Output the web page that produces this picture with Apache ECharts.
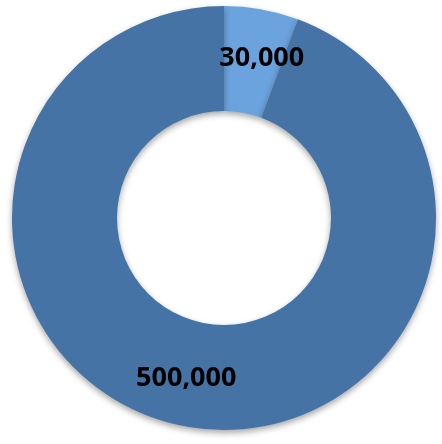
<!DOCTYPE html>
<html>
<head>
<meta charset="utf-8">
<script src="https://cdn.jsdelivr.net/npm/echarts@6/dist/echarts.min.js"></script>
<style>
  html, body { margin: 0; padding: 0; background: #fff; }
  #donut-chart { width: 442px; height: 444px; }
</style>
</head>
<body>
<div id="donut-chart"></div>
<script>
const categories = ['A', 'B']
const values = [30000, 500000]
const labels = ['30,000', '500,000']
const colors = ['#6ba3de', '#4673a5']
const labelShift = [[9, 0], [-9, 0]]

let chart = echarts.init(document.getElementById('donut-chart'))
chart.setOption({
  animation: false,
  series: [{
    type: 'pie',
    center: [224, 218],
    radius: [107, 212],
    startAngle: 90,
    clockwise: true,
    avoidLabelOverlap: false,
    itemStyle: {
      shadowColor: 'rgba(0, 0, 0, 0.35)',
      shadowBlur: 6,
      shadowOffsetY: 3
    },
    label: {
      show: true,
      position: 'inside',
      color: '#000',
      fontFamily: 'Open Sans',
      fontWeight: 'bold',
      fontSize: 27
    },
    labelLine: { show: false },
    emphasis: { disabled: true },
    data: categories.map((name, i) => ({
      name: name,
      value: values[i],
      itemStyle: { color: colors[i] },
      label: { formatter: labels[i], offset: labelShift[i] }
    }))
  }]
})
</script>
</body>
</html>
